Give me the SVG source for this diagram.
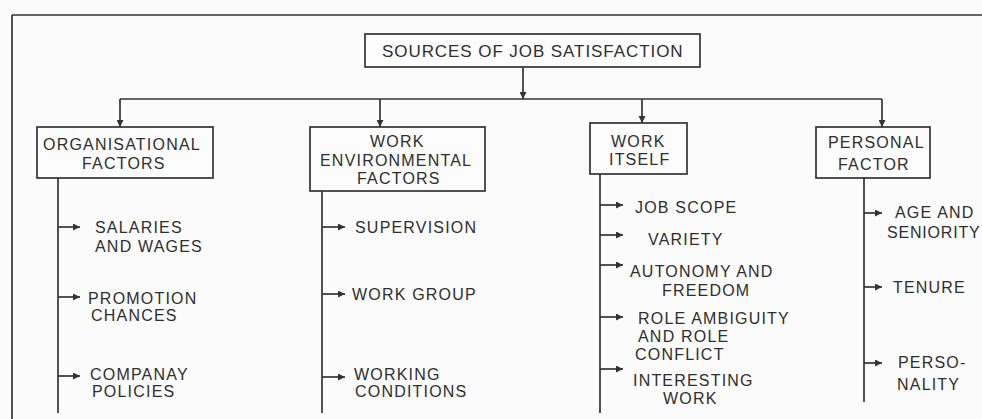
<svg xmlns="http://www.w3.org/2000/svg" width="982" height="419" viewBox="0 0 982 419">
<style>
.ln{stroke:#333;stroke-width:1.7;fill:none}
.bx{stroke:#333;stroke-width:1.7;fill:#fcfcfc}
.t{font-family:"Liberation Sans",Arial,sans-serif;font-size:16px;letter-spacing:1.2px;fill:#2e2e2e}
.tt{font-family:"Liberation Sans",Arial,sans-serif;font-size:17px;letter-spacing:0.4px;fill:#2e2e2e}
</style>
<defs>
<marker id="ah2" viewBox="0 0 10 10" refX="10" refY="5" markerWidth="7" markerHeight="7" orient="auto" markerUnits="userSpaceOnUse">
<path d="M0,0 L10,5 L0,10 z" fill="#333"/>
</marker>
</defs>
<rect width="982" height="419" fill="#fbfbfb"/>
<g id="frame">
<line class="ln" x1="12" y1="15" x2="982" y2="15" stroke-width="2"/>
<line class="ln" x1="12" y1="15" x2="12" y2="419" stroke-width="2"/>
</g>
<g id="connectors">
<line class="ln" x1="523" y1="67" x2="523" y2="99" marker-end="url(#ah2)"/>
<line class="ln" x1="120" y1="99" x2="882" y2="99"/>
<line class="ln" x1="120" y1="99" x2="120" y2="127" marker-end="url(#ah2)"/>
<line class="ln" x1="380" y1="99" x2="380" y2="127" marker-end="url(#ah2)"/>
<line class="ln" x1="642" y1="99" x2="642" y2="123" marker-end="url(#ah2)"/>
<line class="ln" x1="882" y1="99" x2="882" y2="127" marker-end="url(#ah2)"/>
<line class="ln" x1="58" y1="178" x2="58" y2="413"/>
<line class="ln" x1="322" y1="191" x2="322" y2="413"/>
<line class="ln" x1="600" y1="174" x2="600" y2="413"/>
<line class="ln" x1="864" y1="178" x2="864" y2="402"/>
<line class="ln" x1="58" y1="227" x2="80" y2="227" marker-end="url(#ah2)"/>
<line class="ln" x1="58" y1="297" x2="80" y2="297" marker-end="url(#ah2)"/>
<line class="ln" x1="58" y1="376" x2="80" y2="376" marker-end="url(#ah2)"/>
<line class="ln" x1="322" y1="227" x2="345" y2="227" marker-end="url(#ah2)"/>
<line class="ln" x1="322" y1="294" x2="345" y2="294" marker-end="url(#ah2)"/>
<line class="ln" x1="322" y1="377" x2="345" y2="377" marker-end="url(#ah2)"/>
<line class="ln" x1="600" y1="205" x2="623" y2="205" marker-end="url(#ah2)"/>
<line class="ln" x1="600" y1="235" x2="623" y2="235" marker-end="url(#ah2)"/>
<line class="ln" x1="600" y1="265" x2="623" y2="265" marker-end="url(#ah2)"/>
<line class="ln" x1="600" y1="317" x2="623" y2="317" marker-end="url(#ah2)"/>
<line class="ln" x1="600" y1="369" x2="623" y2="369" marker-end="url(#ah2)"/>
<line class="ln" x1="864" y1="213" x2="882" y2="213" marker-end="url(#ah2)"/>
<line class="ln" x1="864" y1="287" x2="882" y2="287" marker-end="url(#ah2)"/>
<line class="ln" x1="864" y1="363" x2="882" y2="363" marker-end="url(#ah2)"/>
</g>
<g id="root">
<rect class="bx" x="365" y="34" width="335" height="33"/>
<text class="tt" x="382" y="57" textLength="301">SOURCES OF JOB SATISFACTION</text>
</g>
<g id="organisational">
<rect class="bx" x="37" y="127" width="176" height="51"/>
<text class="t" x="43" y="150">ORGANISATIONAL</text>
<text class="t" x="82" y="169">FACTORS</text>
</g>
<g id="work-environmental">
<rect class="bx" x="310" y="127" width="175" height="64"/>
<text class="t" x="370" y="147">WORK</text>
<text class="t" x="320" y="166">ENVIRONMENTAL</text>
<text class="t" x="357" y="184">FACTORS</text>
</g>
<g id="work-itself">
<rect class="bx" x="590" y="123" width="97" height="51"/>
<text class="t" x="611" y="147">WORK</text>
<text class="t" x="609" y="165">ITSELF</text>
</g>
<g id="personal">
<rect class="bx" x="816" y="127" width="114" height="51"/>
<text class="t" x="828" y="148">PERSONAL</text>
<text class="t" x="838" y="170">FACTOR</text>
</g>
<g id="org-items">
<text class="t" x="95" y="233">SALARIES</text>
<text class="t" x="95" y="252">AND WAGES</text>
<text class="t" x="88" y="304">PROMOTION</text>
<text class="t" x="91" y="321">CHANCES</text>
<text class="t" x="90" y="380">COMPANAY</text>
<text class="t" x="92" y="397">POLICIES</text>
</g>
<g id="env-items">
<text class="t" x="355" y="233">SUPERVISION</text>
<text class="t" x="352" y="300">WORK GROUP</text>
<text class="t" x="354" y="380">WORKING</text>
<text class="t" x="355" y="397">CONDITIONS</text>
</g>
<g id="itself-items">
<text class="t" x="635" y="213">JOB SCOPE</text>
<text class="t" x="648" y="245">VARIETY</text>
<text class="t" x="630" y="277">AUTONOMY AND</text>
<text class="t" x="662" y="296">FREEDOM</text>
<text class="t" x="638" y="324">ROLE AMBIGUITY</text>
<text class="t" x="638" y="342">AND ROLE</text>
<text class="t" x="635" y="360">CONFLICT</text>
<text class="t" x="633" y="386">INTERESTING</text>
<text class="t" x="663" y="404">WORK</text>
</g>
<g id="personal-items">
<text class="t" x="895" y="218">AGE AND</text>
<text class="t" x="887" y="238" style="letter-spacing:0.8px">SENIORITY</text>
<text class="t" x="893" y="293">TENURE</text>
<text class="t" x="898" y="368">PERSO-</text>
<text class="t" x="897" y="390">NALITY</text>
</g>
</svg>
